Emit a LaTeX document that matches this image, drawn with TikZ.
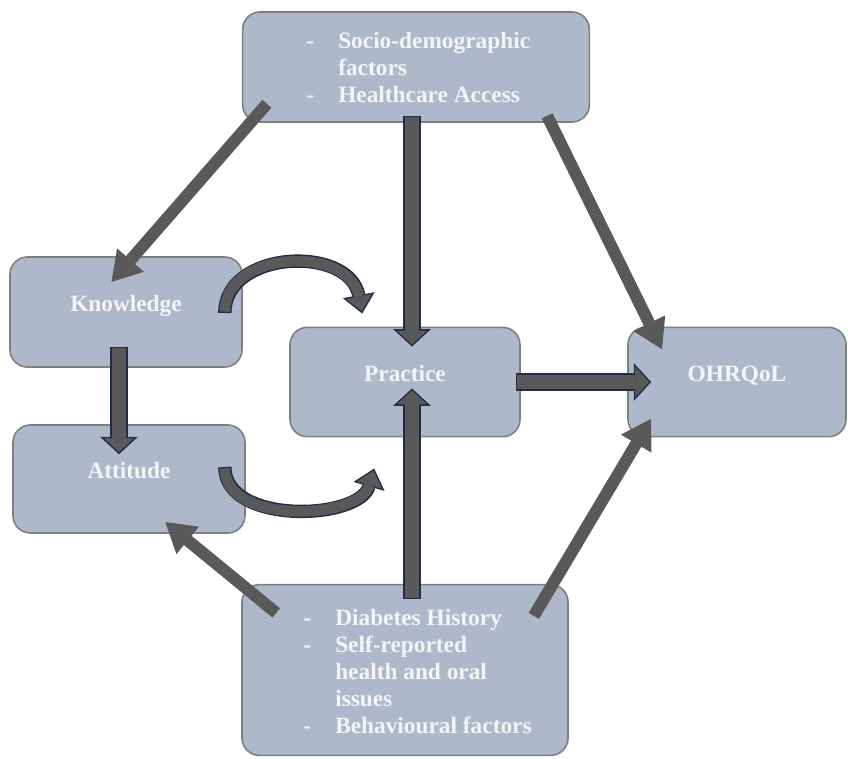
\documentclass[tikz,border=0pt]{standalone}
\usepackage{fontspec}
\setmainfont{Liberation Serif}
\usetikzlibrary{arrows.meta}

\definecolor{boxfill}{HTML}{ADB9CB}
\definecolor{boxline}{HTML}{7F7F7F}
\definecolor{boxtext}{HTML}{F4F4F4}
\definecolor{arrowgrey}{HTML}{595959}
\definecolor{navy}{HTML}{1F2D4A}

\newcommand{\dashitem}{\makebox[24pt][l]{-}}
\newcommand{\dashgap}{\hspace*{24pt}}

\begin{document}
\begin{tikzpicture}[
  x=0.75pt, y=-0.75pt,
  box/.style={draw=boxline, line width=1.2pt, fill=boxfill, rounded corners=13pt,
    inner sep=0pt, text=boxtext, text height=12pt, text depth=13pt,
    font=\bfseries\fontsize{17.5}{20.25}\selectfont},
  txt/.style={text=boxtext, align=left, inner sep=0pt,
    font=\bfseries\fontsize{17.5}{20.25}\selectfont},
  garrow/.style={draw=arrowgrey, line width=9pt, -{Triangle[length=22pt, width=25pt]}},
  barrow/.style={draw=navy, line width=13pt,
    -{Triangle[length=13pt, width=28pt, fill=arrowgrey, line width=1pt]},
    postaction={draw=arrowgrey, line width=11pt, -, shorten >=12pt, shorten <=1pt}},
  carrow/.style={draw=navy, line width=10pt,
    -{Triangle[length=14pt, width=24pt, fill=arrowgrey, line width=1pt]},
    postaction={draw=arrowgrey, line width=8pt, -, shorten >=13pt, shorten <=1pt}}]

  \useasboundingbox (0,0) rectangle (848,758);

  % ---- boxes --------------------------------------------------------------
  \node[box, minimum width=260pt, minimum height=82.5pt] (top)  at (416,67)  {};
  \node[box, minimum width=174pt, minimum height=82.5pt] (know) at (126,312) {Knowledge};
  \node[box, minimum width=174pt, minimum height=81pt]   (att)  at (129,479) {Attitude};
  \node[box, minimum width=172.5pt, minimum height=82pt] (prac) at (405,382) {Practice};
  \node[box, minimum width=163.5pt, minimum height=82pt] (ohr)  at (737,382) {OHRQoL};
  \node[box, minimum width=244.5pt, minimum height=128pt] (bot) at (405,670) {};

  \node[txt, anchor=west] (toptxt) at (306,68)
    {\dashitem Socio-demographic\\ \dashgap factors\\ \dashitem Healthcare Access};
  \node[txt, anchor=west] (bottxt) at (303,672)
    {\dashitem Diabetes History\\ \dashitem Self-reported\\ \dashgap health and oral\\
     \dashgap issues\\ \dashitem Behavioural factors};

  % ---- arrows -------------------------------------------------------------
  \draw[garrow] ([shift={(25,-19)}]top.south west) -- ([shift={(102,26)}]know.north west);
  \draw[barrow] ([shift={(-4,-7)}]top.south) -- ([shift={(7,20)}]prac.north);
  \draw[garrow] ([shift={(-43,-7)}]top.south east) -- ([shift={(35,23)}]ohr.north west);

  \draw[carrow] ([shift={(-18,1)}]know.east)
    .. controls +(0,-63) and +(-13,-69) .. ([shift={(73,-13)}]prac.north west);
  \draw[barrow] ([shift={(-7,-21)}]know.south) -- ([shift={(-10,30)}]att.north);
  \draw[carrow] ([shift={(-21,-12)}]att.east)
    .. controls +(0,58) and +(-15,52) .. ([shift={(85,31)}]prac.south west);

  \draw[barrow] ([shift={(-5,0)}]prac.east) -- ([shift={(24,0)}]ohr.west);

  \draw[garrow] ([shift={(35,29)}]bot.north west) -- ([shift={(36,-12)}]att.south);
  \draw[barrow] ([shift={(7,15)}]bot.north) -- ([shift={(7,-49)}]prac.south);
  \draw[garrow] ([shift={(-35,32)}]bot.north east) -- ([shift={(24,-19)}]ohr.south west);
\end{tikzpicture}
\end{document}
